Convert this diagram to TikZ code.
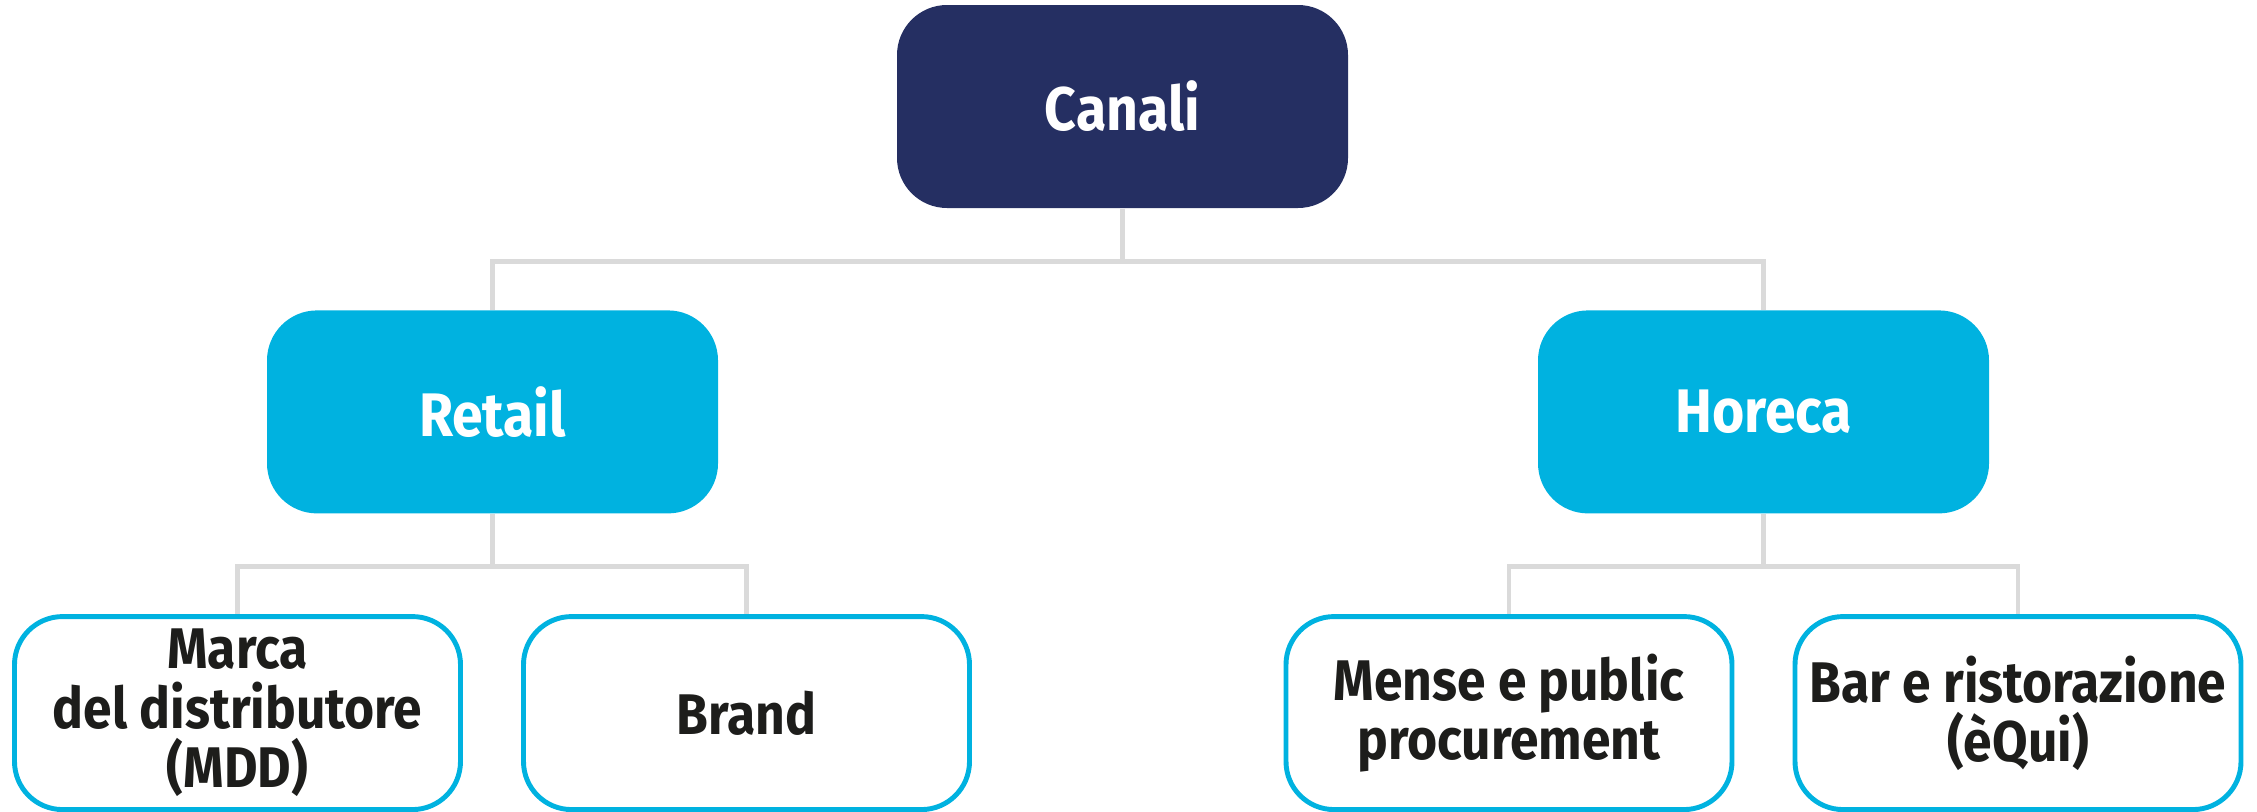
\documentclass[tikz,border=0pt]{standalone}
\usepackage{fontspec}
\setmainfont{Fira Sans}[FakeStretch=0.9]
\usetikzlibrary{positioning}

\definecolor{navy}{RGB}{37,47,98}
\definecolor{skyblue}{RGB}{0,178,224}
\definecolor{linkgray}{RGB}{218,218,218}
\definecolor{ink}{RGB}{29,29,27}

\tikzset{
    box/.style={rounded corners=0.5cm, minimum width=4.51cm, minimum height=2.03cm,
        inner sep=0pt, align=center, text=white,
        font=\fontsize{17.5}{20}\selectfont\bfseries},
    root/.style={box, fill=navy},
    branch/.style={box, fill=skyblue},
    leaf/.style={rounded corners=0.48cm, draw=skyblue, line width=1.4pt, fill=white,
        minimum width=4.46cm, minimum height=1.93cm, inner sep=0pt, align=center,
        text=ink, font=\fontsize{16.3}{16.9}\selectfont\bfseries},
    link/.style={draw=linkgray, line width=1.4pt},
}

\begin{document}
\begin{tikzpicture}
\useasboundingbox (0,0) rectangle (22.57,-8.11);

\node[root] (canali) at (11.225,-1.065) {Canali};
\node[branch, below=1.01cm of canali, xshift=-6.3cm] (retail) {Retail};
\node[branch, below=1.01cm of canali, xshift=6.41cm] (horeca) {Horeca};

\node[leaf, below=1cm of retail, xshift=-2.55cm] (mdd) {Marca\\del distributore\\(MDD)};
\node[leaf, below=1cm of retail, xshift=2.54cm] (brand) {Brand};
\node[leaf, below=1cm of horeca, xshift=-2.545cm] (mense) {Mense e public\\procurement};
\node[leaf, below=1cm of horeca, xshift=2.545cm] (equi) {Bar e ristorazione\\(èQui)};

% connectors
\draw[link]
    (canali.south) -- ++(0,-0.53) -| (retail.north)
    (canali.south) -- ++(0,-0.53) -| (horeca.north)
    (retail.south) -- ++(0,-0.52) -| (mdd.north)
    (retail.south) -- ++(0,-0.52) -| (brand.north)
    (horeca.south) -- ++(0,-0.52) -| (mense.north)
    (horeca.south) -- ++(0,-0.52) -| (equi.north);
\end{tikzpicture}
\end{document}
